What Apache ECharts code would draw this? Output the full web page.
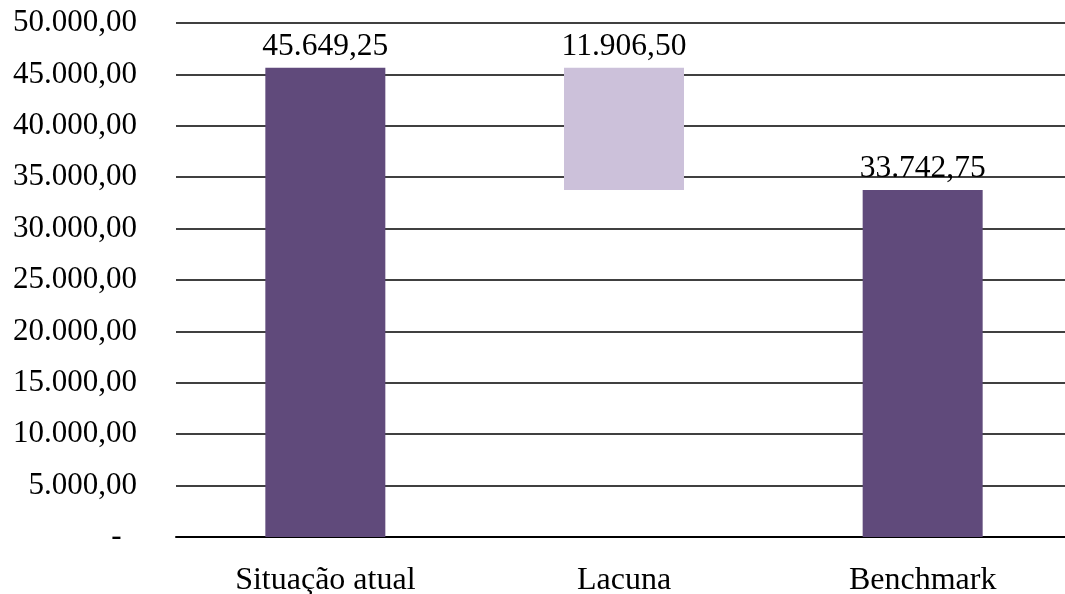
<!DOCTYPE html>
<html>
<head>
<meta charset="utf-8">
<script src="https://cdn.jsdelivr.net/npm/echarts@6/dist/echarts.min.js"></script>
<style>
  html, body { margin: 0; padding: 0; background: #fff; }
  #chart { width: 1065px; height: 594px; }
</style>
</head>
<body>
<div id="chart"></div>
<script>
// Waterfall: current situation, gap, benchmark
const categories = ['Situação atual', 'Lacuna', 'Benchmark'];
const baseValues = [0, 33742.75, 0];           // invisible offset under each bar
const barValues = [45649.25, 11906.50, 33742.75];
const barColors = ['#604a7b', '#ccc1da', '#604a7b'];
const yTicks = { min: 0, max: 50000, interval: 5000 };

// accounting-style number format: zero shown as a padded dash
const fmt = v => v === 0 ? '-  ' : v.toLocaleString('pt-BR', { minimumFractionDigits: 2, maximumFractionDigits: 2 });
const serif = '"Liberation Serif", "Times New Roman", serif';

const chart = echarts.init(document.getElementById('chart'), null, { renderer: 'canvas' });
chart.setOption({
  animation: false,
  backgroundColor: '#ffffff',
  // plot area runs slightly past the right edge of the canvas
  grid: { left: 176, top: 23, right: -7, bottom: 57, containLabel: false, outerBoundsMode: 'none' },
  xAxis: {
    type: 'category',
    data: categories,
    axisLine: { show: true, lineStyle: { color: '#000', width: 2 } },
    axisTick: { show: false },
    axisLabel: { color: '#000', fontFamily: serif, fontSize: 32, margin: 28 }
  },
  yAxis: {
    type: 'value',
    min: yTicks.min, max: yTicks.max, interval: yTicks.interval,
    axisLine: { show: false },
    axisTick: { show: false },
    splitLine: { lineStyle: { color: '#000', width: 1.5 } },
    axisLabel: { color: '#000', fontFamily: serif, fontSize: 31, margin: 39, formatter: fmt }
  },
  series: [
    {
      type: 'bar', stack: 'w', barWidth: 120,
      itemStyle: { color: 'transparent' },
      emphasis: { disabled: true },
      data: baseValues
    },
    {
      type: 'bar', stack: 'w', barWidth: 120,
      data: barValues.map((v, i) => ({ value: v, itemStyle: { color: barColors[i] } })),
      label: {
        show: true, position: 'top', distance: 5,
        color: '#000', fontFamily: serif, fontSize: 31.5,
        formatter: p => fmt(p.value)
      }
    }
  ]
});
</script>
</body>
</html>
